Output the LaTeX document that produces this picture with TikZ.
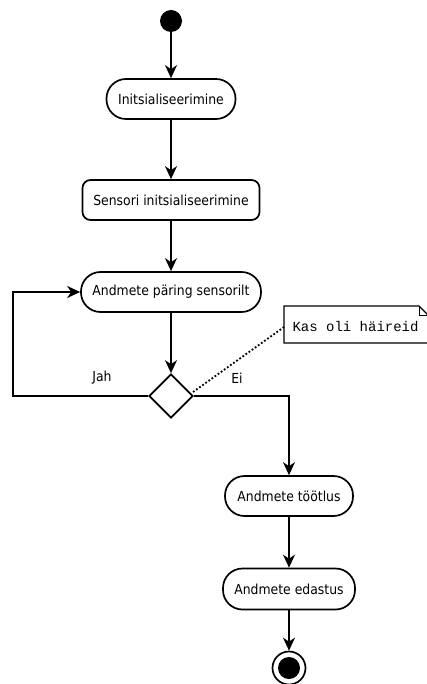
\documentclass[tikz,border=0pt]{standalone}
\usepackage{fontspec}
\setmainfont{DejaVu Sans Condensed}
\newfontfamily\notefont{Liberation Mono}
\usetikzlibrary{arrows.meta,shapes.geometric}
\begin{document}
\begin{tikzpicture}[x=1pt,y=-1pt,
  every node/.style={font=\fontsize{13.8}{16}\selectfont},
  act/.style={draw, line width=1.7pt, inner sep=0pt, minimum height=40pt, rounded corners=19.5pt},
  sqact/.style={draw, line width=1.7pt, inner sep=0pt, minimum height=40pt, rounded corners=8pt},
  flow/.style={line width=1.7pt, -{Stealth[length=13pt,width=12pt,inset=4pt]}}]
\useasboundingbox (0,0) rectangle (426,684);
\node[circle, fill=black, minimum size=22pt, inner sep=0pt] (start) at (171,21) {};
\node[act, minimum width=129pt] (init) at (171,99) {Initsialiseerimine};
\node[sqact, minimum width=177pt] (sens) at (171,200) {Sensori initsialiseerimine};
\node[act, minimum width=180pt] (query) at (171,292) {Andmete päring sensorilt};
\node[draw, line width=1.7pt, diamond, minimum size=44pt, inner sep=0pt, shape aspect=1] (dec) at (171,396) {};
\node[act, minimum width=128pt] (proc) at (289,496) {Andmete töötlus};
\node[act, minimum width=132pt, minimum height=41pt] (send) at (289,589) {Andmete edastus};
\node[circle, draw, line width=1.7pt, minimum size=33pt, inner sep=0pt] (end) at (289,668) {};
\node[circle, fill=black, minimum size=22pt, inner sep=0pt] (endin) at (end.center) {};
% note
\coordinate (nA) at (284,306);
\coordinate (nB) at (419,306);
\coordinate (nC) at (428,315);
\coordinate (nD) at (428,343);
\coordinate (nE) at (284,343);
\coordinate (nF) at (419,315);
\draw[line width=1.4pt, fill=white] (nA) -- (nB) -- (nC) -- (nD) -- (nE) -- cycle;
\draw[line width=0.8pt] (nB) -- (nF) -- (nC);
\node[font=\notefont\fontsize{14}{16}\selectfont, anchor=west] (note) at (289,327) {Kas oli häireid};
\coordinate (noteW) at (284,327);
\coordinate (decNE) at (193,392);
\draw[line width=1.8pt, dotted] (decNE) -- (noteW);
% flows
\draw[flow] (start) -- (init);
\draw[flow] (init) -- (sens);
\draw[flow] (sens) -- (query);
\draw[flow] (query) -- (dec);
\coordinate (loopL) at (13,396);
\draw[flow] (dec.west) -- (loopL) |- (query.west);
\draw[flow] (dec.east) -| (proc.north);
\draw[flow] (proc) -- (send);
\draw[flow] (send.south) -- (end.north);
\node (jah) at (102,378) {Jah};
\node (ei) at (237,378) {Ei};
\end{tikzpicture}
\end{document}
